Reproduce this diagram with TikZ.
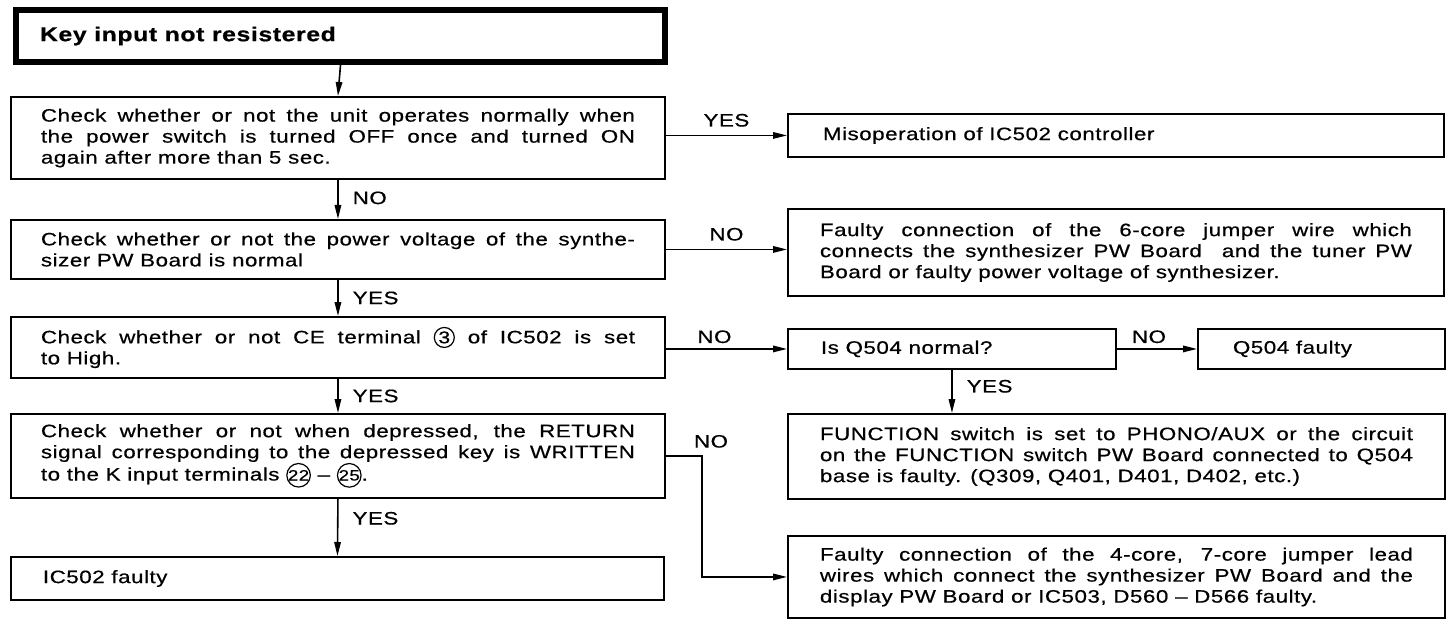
\documentclass[tikz,border=0pt]{standalone}
\usepackage{fontspec}
\setmainfont{Liberation Sans}[FakeStretch=1.24,LetterSpace=3,FakeBold=0.6]
\usetikzlibrary{arrows.meta}
\newcommand\bodyfont{\fontsize{18}{21}\selectfont}
\newcommand\jl[1]{\hbox to\hsize{#1}}
\newcommand\nl[1]{\hbox to\hsize{#1\hfil}}
\newcommand\tb[2]{\vbox{\hsize=#1\relax #2}}
\newcommand\circnum[3]{\tikz[baseline=(cn.base)]\node[draw,circle,line width=1.2pt,inner sep=0pt,minimum size=#1,text width={},align=center,anchor=center,font=\fontsize{#2}{#2}\selectfont] (cn) {#3};}
\begin{document}
\begin{tikzpicture}[x=1pt,y=1pt,
  box/.style={draw, line width=1.9pt, anchor=north west, inner sep=0pt, font=\bodyfont},
  arr/.style={line width=1.6pt, -{Triangle[length=14pt,width=6.5pt]}},
  lbl/.style={font=\bodyfont, inner sep=0pt}]
\useasboundingbox (0,0) rectangle (1450,-620);

% left column
\node[draw, line width=6pt, anchor=north west, minimum width=649pt, minimum height=52pt,
      inner sep=0pt, font=\fontsize{20}{24}\selectfont\bfseries] (title) at (13,-7)
 {\tb{601pt}{\nl{Key input not resistered}}};

\node[box, minimum width=654pt, minimum height=82pt] (c1) at (10,-96)
 {\tb{594pt}{\jl{Check whether or not the unit operates normally when}\jl{the power switch is turned OFF once and turned ON}\nl{again after more than 5 sec.}}};

\node[box, minimum width=654pt, minimum height=59pt] (c2) at (10,-219)
 {\tb{594pt}{\jl{Check whether or not the power voltage of the synthe-}\nl{sizer PW Board is normal}}};

\node[box, minimum width=654pt, minimum height=61pt] (c3) at (10,-316)
 {\tb{594pt}{\jl{Check whether or not CE terminal \circnum{20pt}{17}{3} of IC502 is set}\nl{to High.}}};

\node[box, minimum width=654pt, minimum height=84pt] (c4) at (10,-413)
 {\tb{594pt}{\jl{Check whether or not when depressed, the RETURN}\jl{signal corresponding to the depressed key is WRITTEN}\nl{to the K input terminals \circnum{22pt}{15}{22}\ --\ \circnum{22pt}{15}{25}.}}};

\node[box, minimum width=653pt, minimum height=43pt] (ic) at (10,-556)
 {\tb{589pt}{\nl{IC502 faulty}}};

% right column
\node[box, minimum width=656pt, minimum height=43pt] (misop) at (787,-113)
 {\tb{586pt}{\nl{Misoperation of IC502 controller}}};

\node[box, minimum width=656pt, minimum height=87pt] (f6) at (787,-208)
 {\tb{592pt}{\jl{Faulty connection of the 6-core jumper wire which}\jl{connects the synthesizer PW Board \ and the tuner PW}\nl{Board or faulty power voltage of synthesizer.}}};

\node[box, minimum width=328pt, minimum height=40pt] (q) at (787,-328)
 {\tb{262pt}{\nl{Is Q504 normal?}}};

\node[box, minimum width=247pt, minimum height=40pt] (qf) at (1197,-328)
 {\tb{177pt}{\nl{Q504 faulty}}};

\node[box, minimum width=657pt, minimum height=85pt] (fn) at (787,-413)
 {\tb{593pt}{\jl{FUNCTION switch is set to PHONO/AUX or the circuit}\jl{on the FUNCTION switch PW Board connected to Q504}\nl{base is faulty. (Q309, Q401, D401, D402, etc.)}}};

\node[box, minimum width=657pt, minimum height=82pt] (f4) at (787,-535)
 {\tb{593pt}{\jl{Faulty connection of the 4-core, 7-core jumper lead}\jl{wires which connect the synthesizer PW Board and the}\nl{display PW Board or IC503, D560 -- D566 faulty.}}};

% connectors
\draw[arr] (title.south) -- (c1.north);
\draw[arr] (c1.south) -- node[lbl, anchor=west, xshift=14pt, pos=0.46] (l1) {NO} (c2.north);
\draw[arr] (c2.south) -- node[lbl, anchor=west, xshift=14pt, pos=0.5] (l2) {YES} (c3.north);
\draw[arr] (c3.south) -- node[lbl, anchor=west, xshift=14pt, pos=0.5] (l3) {YES} (c4.north);
\draw[arr] (c4.south) -- node[lbl, anchor=west, xshift=14pt, pos=0.34] (l4) {YES} (ic.north);

\draw[arr] (c1.east |- misop.west) -- node[lbl, anchor=south, yshift=8pt] (l5) {YES} (misop.west);
\draw[arr] (c2.east) -- node[lbl, anchor=south, yshift=8pt] (l6) {NO} (c2.east -| f6.west);
\draw[arr] (c3.east |- q.west) -- node[lbl, anchor=south, yshift=5pt, xshift=-12pt] (l7) {NO} (q.west);
\draw[arr] (q.east) -- node[lbl, anchor=south, yshift=5pt, xshift=-8pt] (l8) {NO} (qf.west);
\draw[arr] (q.south) -- node[lbl, anchor=west, xshift=14pt, pos=0.38] (l9) {YES} (q.south |- fn.north);

\coordinate (kn) at (702,-455);
\draw[arr] (c4.east) -- (kn |- c4.east) |- (f4.west);
\node[lbl, anchor=south, yshift=8pt, xshift=9pt] (l10) at (kn |- c4.east) {NO};
\end{tikzpicture}
\end{document}
